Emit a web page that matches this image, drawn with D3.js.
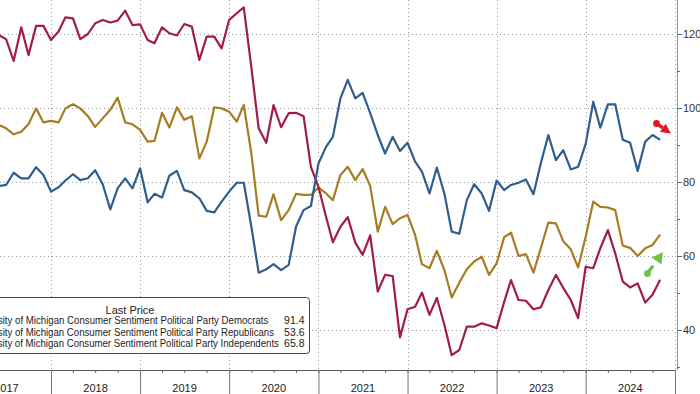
<!DOCTYPE html>
<html><head><meta charset="utf-8">
<script src="https://cdn.jsdelivr.net/npm/d3@7"></script>
<style>html,body{margin:0;padding:0;background:#fff;overflow:hidden}svg{display:block}</style>
</head><body><svg id="c" width="700" height="394"></svg>
<script>
// ---- data (monthly, May 2017 .. Oct 2024) ----
const years = ["2017","2018","2019","2020","2021","2022","2023","2024"];
const yTicks = [40, 60, 80, 100, 120];
const yMinor = [30, 50, 70, 90, 110];
const democrats = [
 78.9,79.2,82.5,81.0,81.0,84.0,81.9,77.4,78.6,80.4,
 82.1,80.5,81.0,83.2,79.4,72.6,78.3,81.0,78.3,83.7,
 74.5,76.8,75.8,81.7,83.0,77.8,77.2,75.6,72.2,71.8,
 74.7,77.4,79.8,79.8,67.9,55.5,56.4,57.8,56.2,57.6,
 67.9,72.4,73.5,85.0,89.5,92.2,102.6,107.6,102.6,104.1,
 98.6,92.7,87.7,92.2,88.4,90.6,85.5,82.8,76.9,83.9,
 76.9,66.6,66.0,75.1,79.4,76.9,72.2,80.4,77.8,79.2,
 79.8,80.7,76.7,85.0,92.7,85.9,88.6,83.4,84.1,90.3,
 101.7,94.7,101.0,101.0,91.4,90.6,83.0,90.9,92.7,91.4];
const republicans = [
 119.7,118.6,112.7,121.8,114.3,122.2,122.2,118.4,120.7,124.5,
 124.2,118.6,120.0,122.9,123.8,123.1,123.6,126.3,122.4,122.6,
 118.4,117.5,121.8,120.2,119.6,122.7,122.0,113.0,119.3,119.3,
 116.1,123.8,125.6,127.2,111.0,94.5,90.6,100.8,94.8,98.6,
 98.7,97.8,84.1,78.7,70.6,63.7,67.9,70.5,63.6,60.3,
 65.6,50.4,54.9,54.6,38.0,45.6,46.3,50.1,44.1,48.7,
 41.4,33.2,34.6,40.9,40.9,41.8,41.2,40.5,47.6,53.5,
 48.1,47.9,45.6,46.1,50.8,54.9,51.4,48.1,43.2,57.1,
 56.7,62.1,67.0,60.7,53.1,51.5,52.6,47.4,49.5,53.6];
const independents = [
 95.4,94.5,92.9,93.6,95.7,99.9,96.1,96.5,96.1,99.9,
 101.0,99.9,97.8,94.9,97.2,99.5,102.8,96.1,95.6,94.1,
 90.9,91.1,98.7,94.7,100.2,96.8,97.8,86.4,90.9,100.2,
 99.9,99.0,96.3,100.8,87.7,70.9,70.6,76.7,69.7,72.4,
 76.8,76.5,76.5,78.5,76.9,75.1,81.9,84.1,80.5,83.5,
 78.9,66.6,73.3,68.6,70.2,71.1,65.7,57.8,56.7,61.4,
 56.2,48.8,52.8,56.4,58.5,59.8,54.9,58.0,65.1,66.3,
 60.0,60.5,55.5,62.1,69.0,68.8,64.0,61.8,56.9,65.2,
 74.7,73.3,73.1,72.4,62.8,62.2,60.0,62.1,63.0,65.8];
const seriesNames = [
 "University of Michigan Consumer Sentiment Political Party Democrats",
 "University of Michigan Consumer Sentiment Political Party Republicans",
 "University of Michigan Consumer Sentiment Political Party Independents"];
const lastValues = ["91.4", "53.6", "65.8"];
const legendTitle = "Last Price";

// ---- layout ----
const svg = d3.select("#c");
const plotBottom = 370, plotRight = 675;
const x = d3.scaleTime().domain([new Date(2018,0,1), new Date(2025,0,1)]).range([51, 675]);
const y = d3.scaleLinear().domain([40, 120]).range([330, 34]);
const dates = d3.timeMonth.range(new Date(2017,5,1), new Date(2024,10,2)); // month-end stamps
const colors = {dem:"#2f5e8c", rep:"#a11d45", ind:"#a57d22"};
const font = "'Liberation Sans', Arial, sans-serif";

// grid
const grid = svg.append("g").attr("stroke","#9a9a9a").attr("stroke-width",1).attr("stroke-dasharray","1,3");
grid.selectAll("line.h").data(yTicks).join("line")
  .attr("x1",0).attr("x2",plotRight).attr("y1",d=>Math.round(y(d))+0.5).attr("y2",d=>Math.round(y(d))+0.5);
const yearStarts = d3.range(2018, 2026).map(v=>new Date(v,0,1));
grid.selectAll("line.v").data(yearStarts).join("line")
  .attr("y1",0).attr("y2",plotBottom).attr("x1",d=>Math.round(x(d))+0.5).attr("x2",d=>Math.round(x(d))+0.5);

// lines
const line = d3.line().x((d,i)=>x(dates[i])).y(d=>y(d));
[[independents,colors.ind],[republicans,colors.rep],[democrats,colors.dem]].forEach(([s,c])=>{
  svg.append("path").datum(s).attr("d",line).attr("fill","none").attr("stroke",c)
    .attr("stroke-width",2.2).attr("stroke-linejoin","round");
});

// right axis
svg.append("line").attr("x1",677.5).attr("x2",677.5).attr("y1",0).attr("y2",plotBottom).attr("stroke","#7f9cb4");
const ya = svg.append("g").attr("transform","translate(677,0)")
  .call(d3.axisRight(y).tickValues(yTicks).tickSize(5).tickPadding(1));
ya.select(".domain").remove();
ya.selectAll("line").attr("stroke","#4a6a85");
ya.selectAll("text").attr("font-family",font).attr("font-size","11px").attr("fill","#333");
const ym = svg.append("g").attr("transform","translate(677,0)")
  .call(d3.axisRight(y).tickValues(yMinor).tickSize(3).tickFormat(""));
ym.select(".domain").remove();
ym.selectAll("line").attr("stroke","#4a6a85");

// bottom axis
svg.append("line").attr("x1",0).attr("x2",plotRight).attr("y1",plotBottom+0.5).attr("y2",plotBottom+0.5).attr("stroke","#555");
const xq = svg.append("g").attr("transform",`translate(0,${plotBottom})`)
  .call(d3.axisBottom(x).ticks(d3.timeMonth.every(3)).tickSize(3).tickFormat(""));
xq.select(".domain").remove();
xq.selectAll("line").attr("stroke","#666");
const xy = svg.append("g").attr("transform",`translate(0,${plotBottom})`)
  .call(d3.axisBottom(x).tickValues(yearStarts).tickSize(24).tickFormat(""));
xy.select(".domain").remove();
xy.selectAll("line").attr("stroke","#777");
svg.append("g").selectAll("text").data(years).join("text")
  .attr("x",d=>(x(new Date(+d,0,1))+x(new Date(+d+1,0,1)))/2).attr("y",392)
  .attr("text-anchor","middle").attr("font-family",font).attr("font-size","11px").attr("fill","#222")
  .text(d=>d);

// legend
const lg = svg.append("g");
lg.append("rect").attr("x",-10.5).attr("y",297.5).attr("width",320).attr("height",56).attr("rx",3)
  .attr("fill","#fff").attr("stroke","#444").attr("stroke-width",1);
lg.append("text").attr("x",130).attr("y",313.5).attr("text-anchor","middle")
  .attr("font-family",font).attr("font-size","11px").attr("fill","#222").text(legendTitle);
const nameStart = -30;
const nameEnds = [268.5, 274.5, 279];
const rowY = [324, 335.5, 347];
seriesNames.forEach((n,i)=>{
  const g = lg.append("g");
  const t = g.append("text").attr("x",0).attr("y",0).attr("font-family",font).attr("font-size","11px")
    .attr("fill","#222").text(n);
  const w = t.node().getComputedTextLength();
  const sx = (nameEnds[i]-nameStart)/w;
  g.attr("transform",`translate(${nameStart},${rowY[i]}) scale(${sx},1)`);
  lg.append("text").attr("x",304.5).attr("y",rowY[i]).attr("text-anchor","end").attr("font-family",font)
    .attr("font-size","10.5px").attr("fill","#222").text(lastValues[i]);
});

// annotation arrows
function arrow(from, tip, color, headLen, halfW, dash){
  const dx = tip[0]-from[0], dy = tip[1]-from[1], L = Math.hypot(dx,dy);
  const ux = dx/L, uy = dy/L, px = -uy, py = ux;
  const g = svg.append("g").attr("fill",color).attr("stroke",color);
  g.append("circle").attr("cx",from[0]).attr("cy",from[1]).attr("r",3.4).attr("stroke","none");
  if (dash) g.append("line").attr("x1",from[0]+ux*3).attr("y1",from[1]+uy*3)
    .attr("x2",from[0]+ux*8).attr("y2",from[1]+uy*8).attr("stroke-width",3.5).attr("stroke-linecap","round");
  const bx = tip[0]-ux*headLen, by = tip[1]-uy*headLen;
  g.append("path").attr("stroke","none").attr("d",
    `M${tip[0]},${tip[1]}L${bx+px*halfW},${by+py*halfW}L${bx-px*halfW},${by-py*halfW}Z`);
  if (!dash) g.append("line").attr("x1",from[0]+ux*2).attr("y1",from[1]+uy*2).attr("x2",bx).attr("y2",by)
    .attr("stroke-width",3.5);
}
arrow([656.5,123.5],[671,133.5],"#e3161d",10,5,false);
arrow([647.5,273.5],[663,252],"#6cc24a",11,6,true);
</script></body></html>
